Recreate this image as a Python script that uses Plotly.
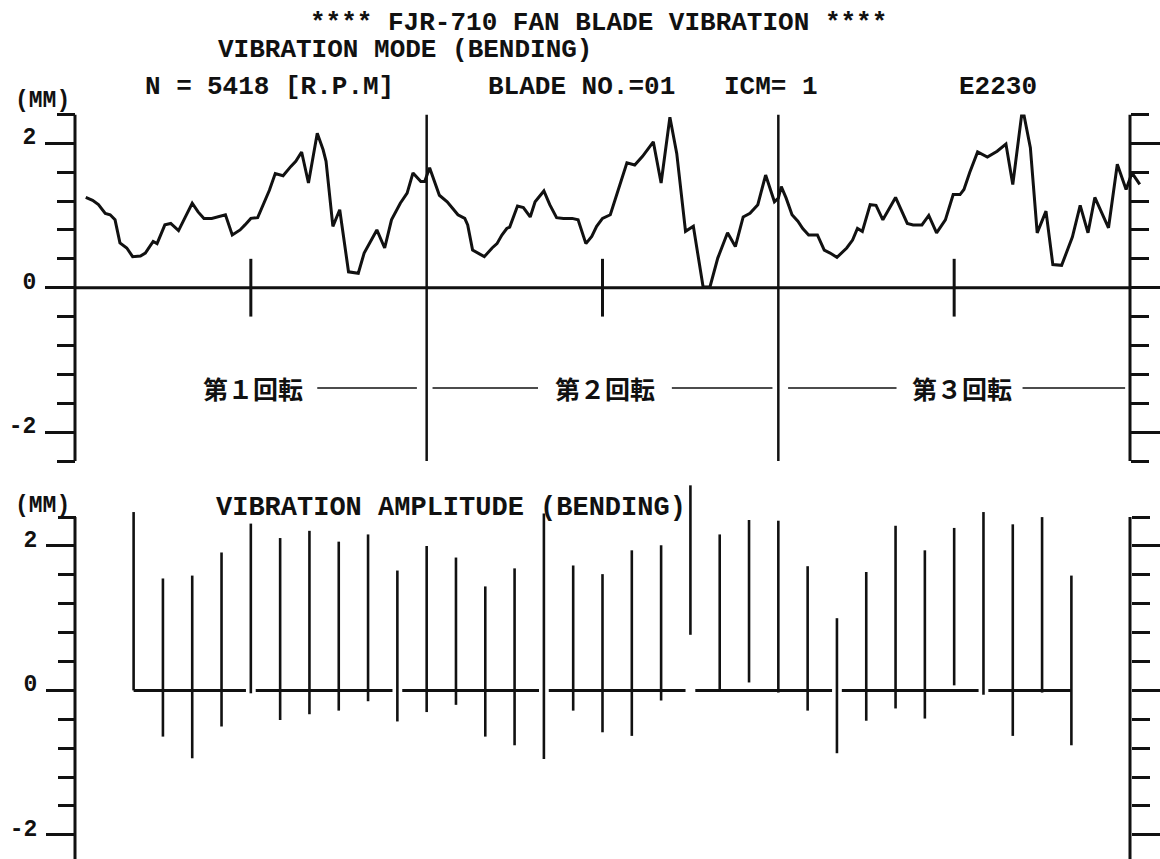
import plotly.graph_objects as go

W, H = 1160, 859

# ---------------- data ----------------
# Vibration mode curve, one list per revolution: blade angle [deg] and displacement [mm]
rev1_deg = [11, 18, 24, 31, 36, 41, 46, 53, 59, 67, 72, 80, 84, 92, 98, 106, 113, 120, 126, 132,
            140, 146, 154, 161, 169, 174, 180, 187, 192, 199, 205, 213, 221, 226, 232, 239, 248, 254,
            257, 264, 271, 280, 290, 296, 309, 317, 324, 333, 340, 346, 354, 358]
rev1_mm = [1.25, 1.21, 1.15, 1.03, 1.01, 0.94, 0.62, 0.55, 0.43, 0.44, 0.48, 0.64, 0.61, 0.87, 0.89,
           0.79, 0.98, 1.17, 1.05, 0.96, 0.96, 0.98, 1.01, 0.73, 0.80, 0.87, 0.96, 0.97, 1.12, 1.35,
           1.58, 1.55, 1.68, 1.75, 1.88, 1.45, 2.14, 1.91, 1.75, 0.85, 1.08, 0.22, 0.20, 0.48, 0.80,
           0.55, 0.94, 1.17, 1.31, 1.59, 1.47, 1.47]
rev2_deg = [363, 368, 373, 381, 387, 392, 399, 402, 407, 413, 419, 427, 432, 437, 442, 445, 453, 459,
            466, 471, 480, 486, 493, 500, 509, 515, 523, 529, 534, 540, 548, 556, 565, 573, 581, 592,
            600, 609, 616, 625, 633, 643, 650, 658, 668, 676, 684, 691, 699]
rev2_mm = [1.66, 1.47, 1.28, 1.19, 1.10, 1.01, 0.96, 0.87, 0.52, 0.47, 0.43, 0.55, 0.61, 0.73, 0.82,
           0.84, 1.13, 1.11, 0.98, 1.19, 1.34, 1.15, 0.97, 0.96, 0.96, 0.94, 0.61, 0.71, 0.85, 0.96,
           1.01, 1.35, 1.73, 1.70, 1.82, 2.02, 1.45, 2.36, 1.86, 0.78, 0.85, 0.01, 0.01, 0.41, 0.76,
           0.57, 0.98, 1.03, 1.15]
rev3_deg = [707, 716, 720, 723, 728, 734, 740, 745, 751, 760, 767, 773, 780, 790, 796, 801, 806, 814,
            820, 827, 840, 852, 858, 867, 874, 882, 891, 899, 906, 910, 916, 924, 934, 944, 953, 960,
            970, 978, 985, 994, 1001, 1010, 1021, 1029, 1037, 1044, 1058, 1067, 1076, 1082, 1090]
rev3_mm = [1.56, 1.19, 1.24, 1.40, 1.24, 1.01, 0.92, 0.82, 0.73, 0.73, 0.52, 0.48, 0.42, 0.55, 0.66,
           0.82, 0.78, 1.15, 1.14, 0.94, 1.25, 0.89, 0.87, 0.87, 1.00, 0.76, 0.94, 1.29, 1.29, 1.36,
           1.60, 1.88, 1.81, 1.89, 1.99, 1.43, 2.49, 1.94, 0.76, 1.06, 0.32, 0.31, 0.70, 1.14, 0.76,
           1.25, 0.83, 1.71, 1.36, 1.59, 1.43]

# Vibration amplitude: one bar every 30 deg, upper and lower extent [mm]
amp_deg = [60, 90, 120, 150, 180, 210, 240, 270, 300, 330, 360, 390, 420, 450, 480, 510, 540,
           570, 600, 630, 660, 690, 720, 750, 780, 810, 840, 870, 900, 930, 960, 990, 1020]
amp_hi = [2.47, 1.55, 1.59, 1.91, 2.31, 2.11, 2.21, 2.06, 2.16, 1.66, 2.00, 1.84, 1.44, 1.69, 2.45,
          1.73, 1.61, 1.94, 2.01, 2.84, 2.16, 2.36, 2.35, 1.72, 1.00, 1.64, 2.28, 1.94, 2.25, 2.47,
          2.30, 2.40, 1.59]
amp_lo = [0.00, -0.64, -0.94, -0.50, -0.04, -0.41, -0.33, -0.28, -0.15, -0.43, -0.30, -0.20, -0.64,
          -0.76, -0.95, -0.28, -0.58, -0.63, -0.14, 0.77, 0.00, 0.11, -0.03, -0.28, -0.87, -0.42,
          -0.25, -0.39, 0.07, -0.06, -0.63, -0.03, -0.76]
amp_zero_breaks = [180, 330, 480, 630, 780, 930]

# Revolution annotation
rev_labels = ["第１回転", "第２回転", "第３回転"]
rev_label_deg = [182, 543, 908]
rev_label_mm = -1.39
rev_line_from = [248, 366, 611, 730, 970]
rev_line_to = [350, 474, 714, 841, 1075]

rev_bounds = [360, 720]          # divider lines between revolutions
half_rev = [180, 540, 900]       # short marks on the zero line
axis_deg = [0, 1080]             # left / right axis positions
axis_mm = [-2.4, 2.4]

tick_major = [-2, 0, 2]
tick_major_text = ["-2", "0", "2"]
tick_minor = [-2.4, -1.6, -1.2, -0.8, -0.4, 0.4, 0.8, 1.2, 1.6, 2.4]

title_main = "**** FJR-710 FAN BLADE VIBRATION ****"
title_mode = "VIBRATION MODE (BENDING)"
title_amp = "VIBRATION AMPLITUDE (BENDING)"
info_tokens = ["N =", "5418", "[R.P.M]", "BLADE NO.=01", "ICM= 1", "E2230"]
unit_label = "(MM)"

# ---------------- layout geometry (pixels) ----------------
AX_L_PX, AX_R_PX = 75, 1130
DEG_PER_PX = (axis_deg[1] - axis_deg[0]) / (AX_R_PX - AX_L_PX)
X_RANGE = [axis_deg[0] - AX_L_PX * DEG_PER_PX, axis_deg[0] + (W - AX_L_PX) * DEG_PER_PX]

TOP_PX, BOT_PX = 114.4, 461.0         # top panel +2.4 / -2.4
MM_PX = (BOT_PX - TOP_PX) / 4.8
LOW_ZERO_PX = 690.4                   # bottom panel zero
LOW_TOP_PX = 470
low_range = [(LOW_ZERO_PX - H) / MM_PX, (LOW_ZERO_PX - LOW_TOP_PX) / MM_PX]

def px(x):
    return x / W

def py(y):
    return 1 - y / H

INK = "#111111"
MONO = "Liberation Mono"

fig = go.Figure()

def seg_trace(xs, ys, width, xaxis="x", yaxis="y"):
    fig.add_trace(go.Scatter(x=xs, y=ys, mode="lines", xaxis=xaxis, yaxis=yaxis,
                             line=dict(color=INK, width=width), hoverinfo="skip",
                             showlegend=False, connectgaps=False))

# ---- top panel ----
mode_deg = rev1_deg + rev2_deg + rev3_deg
mode_mm = rev1_mm + rev2_mm + rev3_mm
seg_trace([axis_deg[0], axis_deg[1]], [0, 0], 3)
dx, dy = [], []
for d in rev_bounds:
    dx += [d, d, None]; dy += [axis_mm[0], axis_mm[1], None]
seg_trace(dx, dy, 2.5)
hx, hy = [], []
for d in half_rev:
    hx += [d, d, None]; hy += [-0.4, 0.4, None]
seg_trace(hx, hy, 3)
lx, ly = [], []
for a, b in zip(rev_line_from, rev_line_to):
    lx += [a, b, None]; ly += [rev_label_mm, rev_label_mm, None]
seg_trace(lx, ly, 1.5)
seg_trace([axis_deg[0]] * 2, axis_mm, 3)
seg_trace([axis_deg[1]] * 2, axis_mm, 3, yaxis="y3")
seg_trace(mode_deg, mode_mm, 3)

# ---- bottom panel ----
GAP = 5
zx, zy = [], []
start = amp_deg[0]
for b in amp_zero_breaks:
    zx += [start, b - GAP, None]; zy += [0, 0, None]
    start = b + GAP
zx += [start, amp_deg[-1]]; zy += [0, 0]
seg_trace(zx, zy, 3, xaxis="x2", yaxis="y2")
bx, by = [], []
for d, lo, hi in zip(amp_deg, amp_lo, amp_hi):
    bx += [d, d, None]; by += [lo, hi, None]
seg_trace(bx, by, 2.6, xaxis="x2", yaxis="y2")
seg_trace([axis_deg[0]] * 2, axis_mm, 3, xaxis="x2", yaxis="y2")
seg_trace([axis_deg[1]] * 2, axis_mm, 3, xaxis="x2", yaxis="y4")

# ---- axes ----
def yax(domain, rng, pos_px, side="left", labels=True, overlay=None):
    d = dict(domain=domain, range=rng, anchor="free", position=px(pos_px), side=side,
             showline=False, showgrid=False, zeroline=False, fixedrange=True,
             ticks="outside", tickmode="array", tickvals=tick_major, ticktext=tick_major_text,
             ticklen=30, tickwidth=2.5, tickcolor=INK, showticklabels=labels,
             tickfont=dict(family=MONO, size=23, color=INK, weight="bold"),
             ticklabelshift=-7, ticklabelstandoff=4, ticklabeloverflow="allow",
             minor=dict(tickmode="array", tickvals=tick_minor, ticks="outside", ticklen=18,
                        tickwidth=2.5, tickcolor=INK, showgrid=False))
    if overlay:
        d["overlaying"] = overlay
    return d

top_domain = [py(BOT_PX), py(TOP_PX)]
low_domain = [0, py(LOW_TOP_PX)]
xcommon = dict(range=X_RANGE, visible=False, fixedrange=True, domain=[0, 1])

fig.update_layout(
    width=W, height=H, margin=dict(l=0, r=0, t=0, b=0),
    paper_bgcolor="white", plot_bgcolor="rgba(0,0,0,0)", showlegend=False,
    xaxis=dict(xcommon, anchor="y"),
    xaxis2=dict(xcommon, anchor="y2"),
    yaxis=yax(top_domain, [-2.4, 2.4], AX_L_PX),
    yaxis3=yax(top_domain, [-2.4, 2.4], AX_R_PX, side="right", labels=False, overlay="y"),
    yaxis2=yax(low_domain, low_range, AX_L_PX + 1),
    yaxis4=yax(low_domain, low_range, AX_R_PX + 1, side="right", labels=False, overlay="y2"),
)

def text(x_px, y_px, s, size=26, family=MONO, anchor="left"):
    fig.add_annotation(x=px(x_px), y=py(y_px), xref="paper", yref="paper", text=s,
                       showarrow=False, xanchor=anchor, yanchor="middle",
                       font=dict(family=family, size=size, color=INK, weight="bold"))

text(308, 23, title_main)
text(216, 50, title_mode)
for x0, tok in zip([143, 205, 283, 486, 722, 957], info_tokens):
    text(x0, 87, tok)
text(13, 101, unit_label, size=23)
text(13, 506, unit_label, size=23)
text(214, 508, title_amp, size=27)

for d, s in zip(rev_label_deg, rev_labels):
    fig.add_annotation(x=d, y=rev_label_mm, xref="x", yref="y", text=s, showarrow=False,
                       xanchor="center", yanchor="middle", bgcolor="white",
                       font=dict(family="Noto Sans CJK JP", size=25, color=INK, weight="bold"))

fig.write_html("out.html", config={"displayModeBar": False},
               post_script="document.body.style.margin='0px';")
